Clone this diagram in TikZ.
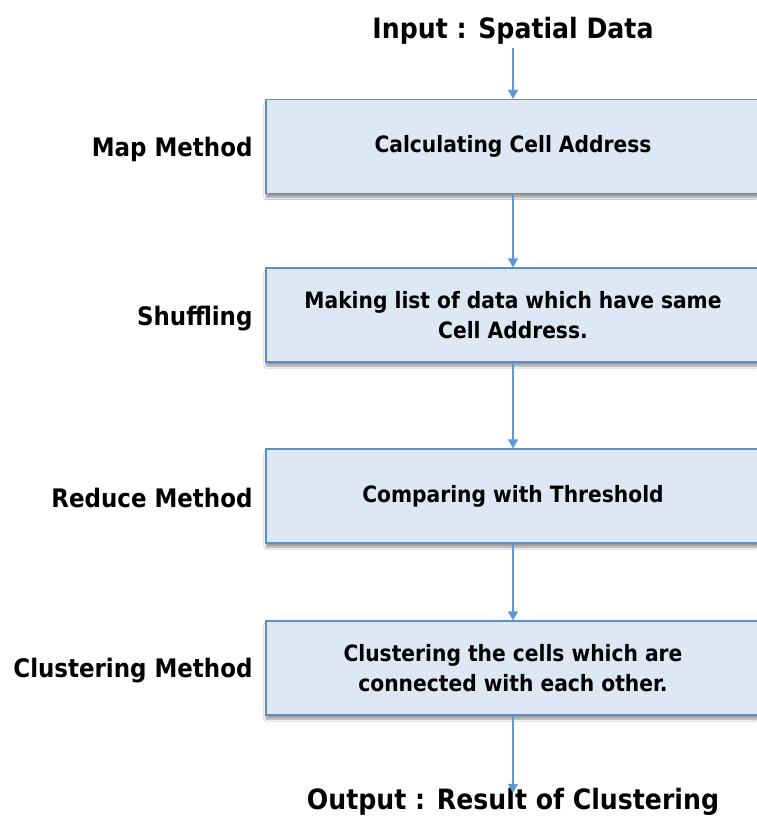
\documentclass[tikz,border=0pt]{standalone}
\usepackage{fontspec}
\setmainfont{DejaVu Sans Condensed}
\usetikzlibrary{arrows.meta,shadows.blur}
\definecolor{boxfill}{HTML}{DDE8F4}
\definecolor{boxline}{HTML}{5E8EC4}
\definecolor{arrowc}{HTML}{5B9BD5}
\tikzset{
  stage/.style={draw=boxline, line width=1.2pt, fill=boxfill, minimum width=494pt,
    minimum height=94pt, align=center, font=\bfseries\fontsize{22.5}{30}\selectfont,
    blur shadow={shadow xshift=0pt, shadow yshift=-4pt, shadow blur steps=6, shadow blur extra rounding=0pt}},
  phase/.style={anchor=east, font=\bfseries\fontsize{25.5}{30}\selectfont},
  endtext/.style={font=\bfseries\fontsize{28}{34}\selectfont},
  flow/.style={draw=arrowc, line width=1.3pt, -{Triangle[width=10pt,length=9pt]}}
}
\begin{document}
\begin{tikzpicture}[x=1pt,y=-1pt]
  \useasboundingbox[fill=white] (0,0) rectangle (756,816);
  \node[endtext] (in) at (513,31) {Input : Spatial Data};
  \node[stage] (s1) at (513,146.5) {Calculating Cell Address};
  \node[stage] (s2) at (513,315) {Making list of data which have same\\Cell Address.};
  \node[stage] (s3) at (513,496) {Comparing with Threshold};
  \node[stage] (s4) at (513,668) {Clustering the cells which are\\connected with each other.};
  \node[endtext] (out) at (513,802) {Output : Result of Clustering};
  \node[phase] (p1) at (256,149) {Map Method};
  \node[phase] (p2) at (256,319) {Shuffling};
  \node[phase] (p3) at (256,498) {Reduce Method};
  \node[phase] (p4) at (256,671) {Clustering Method};
  \draw[flow] (in) -- (s1);
  \draw[flow] (s1) -- (s2);
  \draw[flow] (s2) -- (s3);
  \draw[flow] (s3) -- (s4);
  \draw[flow] (s4) -- ([yshift=-8pt]out.north);
\end{tikzpicture}
\end{document}
